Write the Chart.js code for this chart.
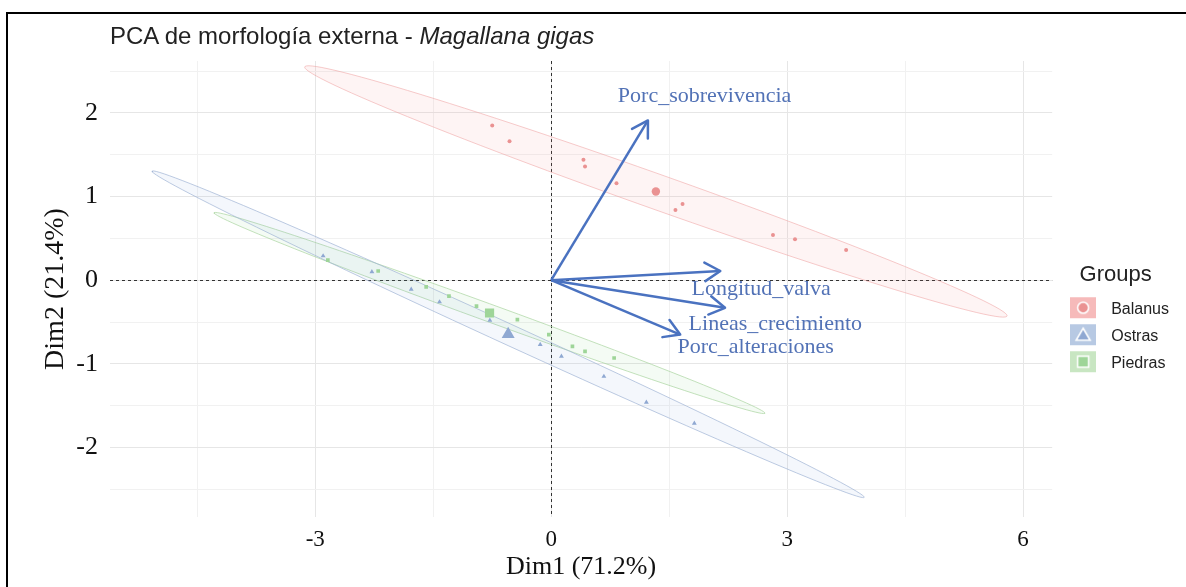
<!DOCTYPE html>
<html>
<head>
<meta charset="utf-8">
<title>PCA de morfología externa - Magallana gigas</title>
<script src="https://cdn.jsdelivr.net/npm/chart.js@4.4.1/dist/chart.umd.min.js"></script>
<style>
  html, body { margin: 0; padding: 0; background: #fff; overflow: hidden; }
  #frame { position: absolute; left: 6px; top: 12px; width: 1300px; height: 700px; border-left: 2px solid #000; border-top: 2px solid #000; }
  #pca { position: absolute; left: 0; top: 0; }
  #title { position: absolute; left: 110px; top: 24px; font: 24px/24px "Liberation Sans", Arial, sans-serif; color: #222; white-space: nowrap; }
</style>
</head>
<body>
<div id="frame"></div>
<canvas id="pca" width="1186" height="587"></canvas>
<div id="title">PCA de morfología externa - <i>Magallana gigas</i></div>
<script>
// individuals (Dim1 / Dim2 coordinates), one pair of arrays per group
const groups = ["Balanus", "Ostras", "Piedras"];
const balanusX = [-0.75, -0.53, 0.41, 0.43, 0.83, 1.58, 1.67, 2.82, 3.10, 3.75];
const balanusY = [1.85, 1.66, 1.44, 1.36, 1.16, 0.84, 0.91, 0.54, 0.49, 0.36];
const ostrasX = [-2.90, -2.28, -1.78, -1.42, -0.78, -0.14, 0.13, 0.67, 1.21, 1.82];
const ostrasY = [0.29, 0.10, -0.11, -0.26, -0.48, -0.77, -0.91, -1.15, -1.46, -1.71];
const piedrasX = [-2.84, -2.20, -1.59, -1.30, -0.95, -0.43, -0.03, 0.27, 0.43, 0.80];
const piedrasY = [0.24, 0.11, -0.08, -0.19, -0.31, -0.47, -0.65, -0.79, -0.85, -0.93];

// variable arrows and where their labels sit
const variables = ["Porc_sobrevivencia", "Longitud_valva", "Lineas_crecimiento", "Porc_alteraciones"];
const varDim1 = [1.23, 2.15, 2.21, 1.64];
const varDim2 = [1.91, 0.11, -0.33, -0.65];
const labelDim1 = [1.95, 2.67, 2.85, 2.60];
const labelDim2 = [2.20, -0.11, -0.53, -0.80];

// grid breaks and labelled ticks
const xGrid = [-4.5, -3, -1.5, 0, 1.5, 3, 4.5, 6];
const xLabels = [-3, 0, 3, 6];
const yGrid = [-2.5, -2, -1.5, -1, -0.5, 0, 0.5, 1, 1.5, 2, 2.5];
const yLabels = [-2, -1, 0, 1, 2];

// sqrt(2 * qf(0.95, 2, n - 1)) for n = 10, as in stat_ellipse
const ELLIPSE_RADIUS = 2.918;

const groupX = [balanusX, ostrasX, piedrasX];
const groupY = [balanusY, ostrasY, piedrasY];
const shapes = ["circle", "triangle", "rect"];
const pointColors = ["#EA9292", "#8FA8D2", "#9ED598"];
const pointSize = [2, 2.8, 2.6];
const meanSize = [4.2, 7.5, 6.5];
const ellipseFill = ["rgba(248,118,109,0.08)", "rgba(110,150,215,0.08)", "rgba(60,180,70,0.06)"];
const ellipseLine = ["rgba(238,160,160,0.55)", "rgba(160,180,212,0.7)", "rgba(170,212,160,0.7)"];
const keyFill = ["#F6BABA", "#B7C9E3", "#C8E6C2"];
const arrowColor = "#4A72C0";
const labelColor = "#5272B6";

Chart.defaults.font.family = '"Liberation Serif", "Times New Roman", serif';
Chart.defaults.color = "#111";

function mean(a) {
    return a.reduce((s, v) => s + v, 0) / a.length;
}

// normal confidence ellipse from the group's covariance (cholesky form)
function confidenceEllipse(xs, ys) {
    const n = xs.length, mx = mean(xs), my = mean(ys);
    let sxx = 0, syy = 0, sxy = 0;
    for (let i = 0; i < n; i++) {
        sxx += (xs[i] - mx) ** 2;
        syy += (ys[i] - my) ** 2;
        sxy += (xs[i] - mx) * (ys[i] - my);
    }
    sxx /= n - 1; syy /= n - 1; sxy /= n - 1;
    const r11 = Math.sqrt(sxx), r12 = sxy / r11, r22 = Math.sqrt(syy - r12 * r12);
    const pts = [];
    for (let k = 0; k <= 120; k++) {
        const t = 2 * Math.PI * k / 120, c = Math.cos(t), s = Math.sin(t);
        pts.push({ x: mx + ELLIPSE_RADIUS * c * r11, y: my + ELLIPSE_RADIUS * (c * r12 + s * r22) });
    }
    return pts;
}

function makeKey(i) {
    const c = document.createElement("canvas");
    c.width = 26; c.height = 28;
    const g = c.getContext("2d");
    g.fillStyle = keyFill[i];
    g.fillRect(0, 2, 26, 21);
    g.fillStyle = pointColors[i];
    g.strokeStyle = "#fff";
    g.lineWidth = 1.6;
    g.beginPath();
    if (shapes[i] === "circle") g.arc(13, 12.5, 5.5, 0, 2 * Math.PI);
    else if (shapes[i] === "triangle") { g.moveTo(13, 6); g.lineTo(20, 18); g.lineTo(6, 18); g.closePath(); }
    else g.rect(7.5, 7, 11, 11);
    g.fill();
    g.stroke();
    return c;
}
const keyImages = groups.map((_, i) => makeKey(i));

const datasets = [];
const pointIndex = [];
groups.forEach((name, i) => {
    datasets.push({
        label: name + " ellipse",
        data: confidenceEllipse(groupX[i], groupY[i]),
        showLine: true,
        fill: "shape",
        backgroundColor: ellipseFill[i],
        borderColor: ellipseLine[i],
        borderWidth: 1,
        pointRadius: 0,
        tension: 0,
        order: 3,
    });
});
groups.forEach((name, i) => {
    pointIndex.push(datasets.length);
    datasets.push({
        label: name,
        data: groupX[i].map((x, k) => ({ x: x, y: groupY[i][k] })),
        pointStyle: shapes[i],
        pointRadius: pointSize[i],
        backgroundColor: pointColors[i],
        borderColor: pointColors[i],
        borderWidth: 0,
        order: 2,
    });
    datasets.push({
        label: name + " mean",
        data: [{ x: mean(groupX[i]), y: mean(groupY[i]) }],
        pointStyle: shapes[i],
        pointRadius: meanSize[i],
        backgroundColor: pointColors[i],
        borderColor: pointColors[i],
        borderWidth: 0,
        order: 2,
    });
});
variables.forEach((name, i) => {
    datasets.push({
        label: name,
        data: [{ x: 0, y: 0 }, { x: varDim1[i], y: varDim2[i] }],
        showLine: true,
        borderColor: arrowColor,
        borderWidth: 2.5,
        pointRadius: 0,
        order: 1,
    });
});

const zeroLines = {
    id: "zeroLines",
    beforeDatasetsDraw(chart) {
        const { ctx, chartArea: a, scales: { x, y } } = chart;
        const x0 = Math.round(x.getPixelForValue(0)) + 0.5, y0 = Math.round(y.getPixelForValue(0)) + 0.5;
        ctx.save();
        ctx.strokeStyle = "#333";
        ctx.lineWidth = 1;
        ctx.setLineDash([3, 3]);
        ctx.beginPath();
        ctx.moveTo(x0, a.top); ctx.lineTo(x0, a.bottom);
        ctx.moveTo(a.left, y0); ctx.lineTo(a.right, y0);
        ctx.stroke();
        ctx.restore();
    }
};

const arrowHeads = {
    id: "arrowHeads",
    afterDatasetsDraw(chart) {
        const { ctx, scales: { x, y } } = chart;
        const x0 = x.getPixelForValue(0), y0 = y.getPixelForValue(0);
        ctx.save();
        ctx.strokeStyle = arrowColor;
        ctx.lineWidth = 2.5;
        ctx.lineCap = "round";
        ctx.lineJoin = "round";
        variables.forEach((name, i) => {
            const x1 = x.getPixelForValue(varDim1[i]), y1 = y.getPixelForValue(varDim2[i]);
            const a = Math.atan2(y1 - y0, x1 - x0);
            ctx.beginPath();
            ctx.moveTo(x1 - 18 * Math.cos(a - 0.54), y1 - 18 * Math.sin(a - 0.54));
            ctx.lineTo(x1, y1);
            ctx.lineTo(x1 - 18 * Math.cos(a + 0.54), y1 - 18 * Math.sin(a + 0.54));
            ctx.stroke();
        });
        ctx.font = '22px "Liberation Serif", "Times New Roman", serif';
        ctx.fillStyle = labelColor;
        ctx.textAlign = "center";
        ctx.textBaseline = "middle";
        variables.forEach((name, i) => {
            ctx.fillText(name, x.getPixelForValue(labelDim1[i]), y.getPixelForValue(labelDim2[i]));
        });
        ctx.restore();
    }
};

new Chart(document.getElementById("pca"), {
    type: "scatter",
    data: { datasets: datasets },
    options: {
        responsive: false,
        animation: false,
        layout: { padding: { left: 30, top: 61, right: 7, bottom: 4 } },
        scales: {
            x: {
                type: "linear",
                min: -5.61,
                max: 6.37,
                afterBuildTicks: (s) => { s.ticks = xGrid.map((v) => ({ value: v })); },
                afterFit: (s) => { s.height = 66; },
                border: { display: false },
                grid: {
                    drawTicks: false,
                    color: (c) => xLabels.includes(c.tick.value) ? "#E6E6E6" : "#F1F1F1",
                },
                ticks: {
                    autoSkip: false,
                    maxRotation: 0,
                    padding: 9,
                    color: "#111",
                    font: { size: 23 },
                    callback: (v) => xLabels.includes(v) ? String(v) : "",
                },
                title: { display: true, text: "Dim1 (71.2%)", color: "#111", font: { size: 26 }, padding: { top: 0, bottom: 0 } },
            },
            y: {
                type: "linear",
                min: -2.83,
                max: 2.62,
                afterBuildTicks: (s) => { s.ticks = yGrid.map((v) => ({ value: v })); },
                afterFit: (s) => { s.width = 80; },
                border: { display: false },
                grid: {
                    drawTicks: false,
                    color: (c) => yLabels.includes(c.tick.value) ? "#E6E6E6" : "#F1F1F1",
                },
                ticks: {
                    autoSkip: false,
                    padding: 12,
                    color: "#111",
                    font: { size: 26 },
                    callback: (v) => yLabels.includes(v) ? String(v) : "",
                },
                title: { display: true, text: "Dim2 (21.4%)", color: "#111", font: { size: 28 }, padding: { top: 9, bottom: 0 } },
            },
        },
        plugins: {
            tooltip: { enabled: false },
            legend: {
                position: "right",
                align: "center",
                title: {
                    display: true,
                    text: "Groups",
                    color: "#222",
                    font: { family: '"Liberation Sans", Arial, sans-serif', size: 22 },
                    padding: { top: 2, bottom: 0 },
                },
                labels: {
                    usePointStyle: true,
                    pointStyleWidth: 40,
                    padding: 11,
                    color: "#222",
                    font: { family: '"Liberation Sans", Arial, sans-serif', size: 16 },
                    generateLabels: () => groups.map((g, i) => ({
                        text: g,
                        pointStyle: keyImages[i],
                        datasetIndex: pointIndex[i],
                        hidden: false,
                        lineWidth: 0,
                        fillStyle: "transparent",
                        strokeStyle: "transparent",
                        fontColor: "#222",
                    })),
                },
            },
        },
    },
    plugins: [zeroLines, arrowHeads],
});
</script>
</body>
</html>
